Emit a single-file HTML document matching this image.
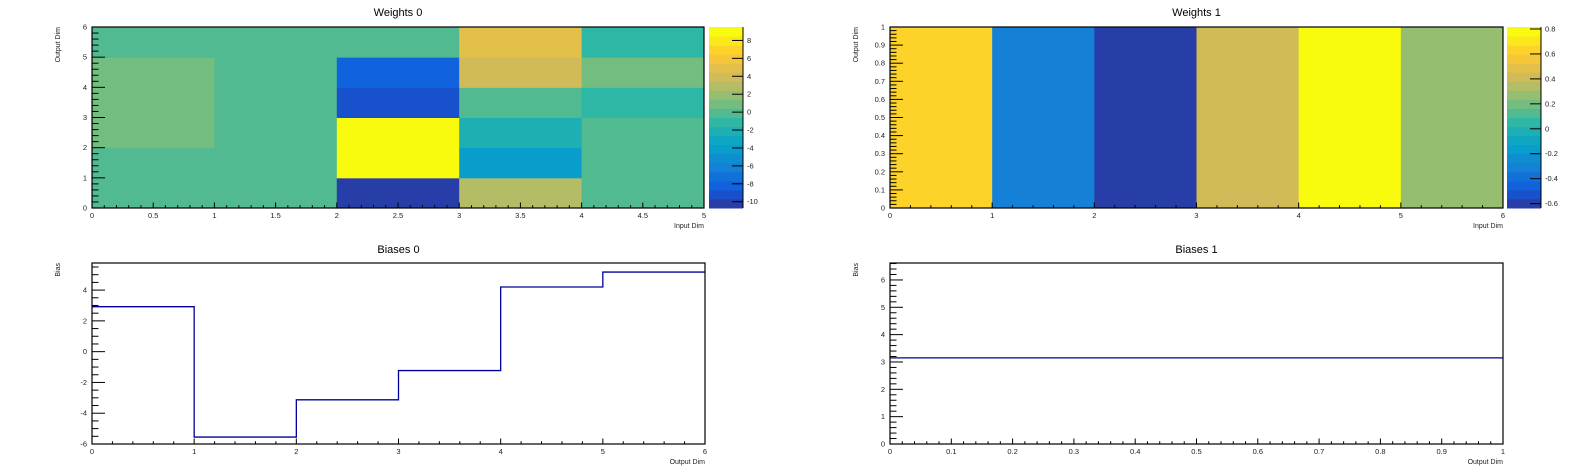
<!DOCTYPE html>
<html><head><meta charset="utf-8">
<style>
html,body{margin:0;padding:0;background:#fff;}
svg{display:block;font-family:"Liberation Sans",Arial,sans-serif;}
</style></head>
<body>
<svg id="c" width="1596" height="472" viewBox="0 0 1596 472"></svg>
<script>
// ---- data ----
const w0XEdges = [0,1,2,3,4,5];
const w0YEdges = [0,1,2,3,4,5,6];
// w0Values[x][y]
const w0Values = [
  [0.0, 0.0, 1.0, 1.0, 1.0, 0.0],
  [0.0, 0.0, 0.0, 0.0, 0.0, 0.0],
  [-10.7, 9.5, 9.5, -9.0, -8.0, 0.0],
  [3.0, -4.5, -2.0, 0.0, 3.6, 4.6],
  [0.0, 0.0, 0.0, -1.0, 1.0, -1.0]
];
const w0ZTicks = [-10,-8,-6,-4,-2,0,2,4,6,8];
const w1XEdges = [0,1,2,3,4,5,6];
const w1Values = [0.6, -0.34, -0.62, 0.42, 0.816, 0.26];
const w1ZTicks = [-0.6,-0.4,-0.2,0,0.2,0.4,0.6,0.8];
const w1ZTickLabels = ["-0.6","-0.4","-0.2","0","0.2","0.4","0.6","0.8"];
const b0Edges = [0,1,2,3,4,5,6];
const b0Values = [2.92, -5.55, -3.13, -1.23, 4.2, 5.17];
const b1Edges = [0,1];
const b1Values = [3.15];

const svg = document.getElementById('c');
const NS = 'http://www.w3.org/2000/svg';
function mk(tag, attrs, parent){ const e=document.createElementNS(NS,tag); for(const k in attrs) e.setAttribute(k,attrs[k]); (parent||svg).appendChild(e); return e; }
function txt(s,x,y,size,anchor,parent,extra){ const t=mk('text',Object.assign({x:x,y:y,'font-size':size,'text-anchor':anchor||'middle',fill:'#000'},extra||{}),parent); t.textContent=s; return t; }
function fmt(v){ return (Math.round(v*1000)/1000).toString(); }

// kBird palette
const stops=[0,0.125,0.25,0.375,0.5,0.625,0.75,0.875,1];
const R=[0.2082,0.0592,0.0780,0.0232,0.1802,0.5301,0.8186,0.9956,0.9764];
const G=[0.1664,0.3599,0.5041,0.6419,0.7178,0.7492,0.7328,0.7862,0.9832];
const B=[0.5293,0.8684,0.8385,0.7914,0.6425,0.4662,0.3499,0.1968,0.0539];
function bird(t){ t=Math.max(0,Math.min(1,t)); let i=0; while(i<7 && t>stops[i+1]) i++; const f=(t-stops[i])/(stops[i+1]-stops[i]);
  const c=a=>Math.round(255*(a[i]+(a[i+1]-a[i])*f)); return 'rgb('+c(R)+','+c(G)+','+c(B)+')'; }
const NLEV=20;
function levelColor(l){ const idx=Math.floor((l+0.99)*255/NLEV); return bird(idx/254); }
function zColor(v,zmin,zmax){ let l=Math.floor((v-zmin)/(zmax-zmin)*NLEV); l=Math.max(0,Math.min(NLEV-1,l)); return levelColor(l); }

function axes(g,f,xmin,xmax,ymin,ymax,xMajor,xMinor,yMajor,yMinor,xTitle,yTitle){
  const sx=v=>f.x0+(v-xmin)/(xmax-xmin)*(f.x1-f.x0);
  const sy=v=>f.y1-(v-ymin)/(ymax-ymin)*(f.y1-f.y0);
  const ax=mk('g',{},g);  
  const ay=mk('g',{},g);  
  const eps=1e-9;
  for(let v=Math.ceil(xmin/xMinor-eps)*xMinor; v<=xmax+eps; v+=xMinor){
    const isMaj=Math.abs(v/xMajor-Math.round(v/xMajor))<1e-6;
    mk('line',{x1:sx(v),x2:sx(v),y1:f.y1,y2:f.y1-(isMaj?5.5:2.8),stroke:'#000','stroke-width':1},ax);
    if(isMaj) txt(fmt(Math.round(v/xMajor)*xMajor),sx(v),f.y1+10,7.5,'middle',ax,{fill:'#222'});
  }
  for(let v=Math.ceil(ymin/yMinor-eps)*yMinor; v<=ymax+eps; v+=yMinor){
    const isMaj=Math.abs(v/yMajor-Math.round(v/yMajor))<1e-6;
    mk('line',{x1:f.x0,x2:f.x0+(isMaj?13:6.5),y1:sy(v),y2:sy(v),stroke:'#000','stroke-width':1},ay);
    if(isMaj) txt(fmt(Math.round(v/yMajor)*yMajor),f.x0-5,sy(v)+2.5,7.5,'end',ay,{fill:'#222'});
  }
  txt(xTitle,f.x1,f.y1+20,7,'end',ax,{fill:'#222'});
  txt(yTitle,0,0,7,'end',ay,{fill:'#222',transform:'translate('+(f.x0-32)+','+f.y0+') rotate(-90)'});
  return {sx,sy};
}
function frame(g,f){ mk('rect',{x:f.x0,y:f.y0,width:f.x1-f.x0,height:f.y1-f.y0,fill:'none',stroke:'#000','stroke-width':1.2},g); }
function colorbar(g,f,cx0,cx1,zmin,zmax,ticks,labels){
  const cb=mk('g',{},g);  
  const sz=v=>f.y1-(v-zmin)/(zmax-zmin)*(f.y1-f.y0);
  for(let l=0;l<NLEV;l++){
    const a=zmin+l*(zmax-zmin)/NLEV, b=zmin+(l+1)*(zmax-zmin)/NLEV;
    mk('rect',{x:cx0,y:sz(b),width:cx1-cx0,height:sz(a)-sz(b)+0.5,fill:levelColor(l)},cb);
  }
  mk('line',{x1:cx1,x2:cx1,y1:f.y0,y2:f.y1,stroke:'#000','stroke-width':1},cb);
  ticks.forEach((t,i)=>{
    mk('line',{x1:cx1-11,x2:cx1,y1:sz(t),y2:sz(t),stroke:'#000','stroke-width':1},cb);
    txt(labels?labels[i]:fmt(t),cx1+4,sz(t)+2.5,7.5,'start',cb,{fill:'#222'});
  });
}

// ---- Weights 0 ----
(function(){
  const g=mk('g',{});  
  const f={x0:92,x1:704,y0:27,y1:208};
  txt('Weights 0',(f.x0+f.x1)/2,16,11,'middle',g);
  let zmin=Infinity,zmax=-Infinity; w0Values.forEach(c=>c.forEach(v=>{zmin=Math.min(zmin,v);zmax=Math.max(zmax,v);}));
  const sx=v=>f.x0+(v-w0XEdges[0])/(w0XEdges[w0XEdges.length-1]-w0XEdges[0])*(f.x1-f.x0);
  const sy=v=>f.y1-(v-w0YEdges[0])/(w0YEdges[w0YEdges.length-1]-w0YEdges[0])*(f.y1-f.y0);
  for(let i=0;i<w0Values.length;i++) for(let j=0;j<w0Values[i].length;j++){
    const r=mk('rect',{x:sx(w0XEdges[i]),y:sy(w0YEdges[j+1]),width:sx(w0XEdges[i+1])-sx(w0XEdges[i])+0.5,height:sy(w0YEdges[j])-sy(w0YEdges[j+1])+0.5,fill:zColor(w0Values[i][j],zmin,zmax)},g);
    
    
  }
  axes(g,f,0,5,0,6,0.5,0.1,1,0.2,'Input Dim','Output Dim');
  frame(g,f);
  colorbar(g,f,709,743,zmin,zmax,w0ZTicks);
})();

// ---- Weights 1 ----
(function(){
  const g=mk('g',{});  
  const f={x0:890,x1:1503,y0:27,y1:208};
  txt('Weights 1',(f.x0+f.x1)/2,16,11,'middle',g);
  const zmin=Math.min(...w1Values)-0.015, zmax=Math.max(...w1Values);
  const sx=v=>f.x0+(v-w1XEdges[0])/(w1XEdges[w1XEdges.length-1]-w1XEdges[0])*(f.x1-f.x0);
  for(let i=0;i<w1Values.length;i++){
    const r=mk('rect',{x:sx(w1XEdges[i]),y:f.y0,width:sx(w1XEdges[i+1])-sx(w1XEdges[i])+0.5,height:f.y1-f.y0,fill:zColor(w1Values[i],zmin,zmax)},g);
    
    
  }
  axes(g,f,0,6,0,1,1,0.2,0.1,0.02,'Input Dim','Output Dim');
  frame(g,f);
  colorbar(g,f,1507,1541,zmin,zmax,w1ZTicks,w1ZTickLabels);
})();

// ---- histograms ----
function hist(name,title,f,edges,vals,ymin,ymax,xMaj,xMin,yMaj,yMin){
  const g=mk('g',{});  
  txt(title,(f.x0+f.x1)/2,f.y0-10,11,'middle',g);
  const {sx,sy}=axes(g,f,edges[0],edges[edges.length-1],ymin,ymax,xMaj,xMin,yMaj,yMin,'Output Dim','Bias');
  let d='';
  for(let i=0;i<vals.length;i++){
    if(i===0) d+='M'+sx(edges[0])+','+sy(vals[0]);
    else d+=' L'+sx(edges[i])+','+sy(vals[i]);
    d+=' L'+sx(edges[i+1])+','+sy(vals[i]);
  }
  const p=mk('path',{d:d,fill:'none',stroke:'#000099','stroke-width':1.3},g);
  
  
  frame(g,f);
}
hist('biases-0-panel','Biases 0',{x0:92,x1:705,y0:263,y1:444},b0Edges,b0Values,-6,5.76,1,0.2,2,0.5);
hist('biases-1-panel','Biases 1',{x0:890,x1:1503,y0:263,y1:444},b1Edges,b1Values,0,6.62,0.1,0.02,1,0.2);
</script>
</body></html>
